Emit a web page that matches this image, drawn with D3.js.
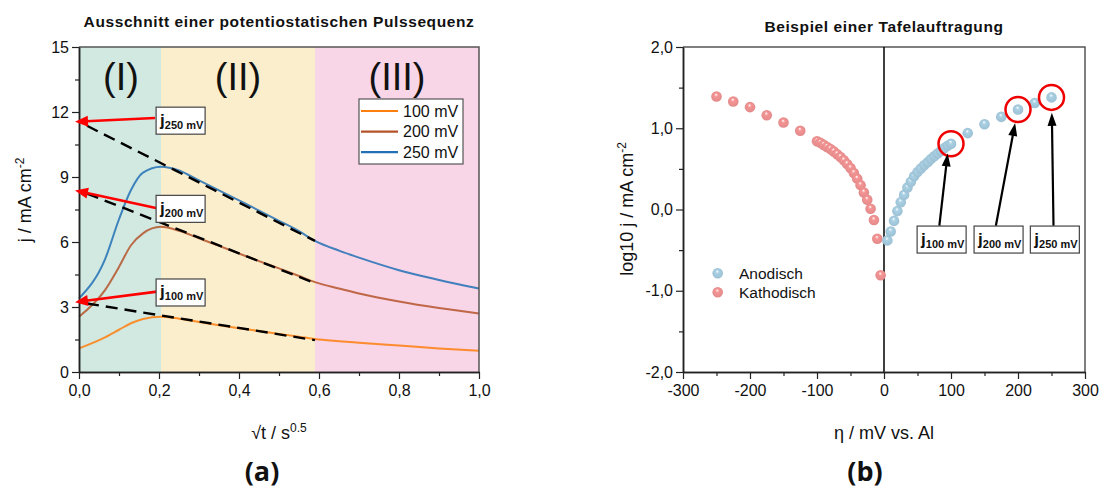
<!DOCTYPE html>
<html><head><meta charset="utf-8">
<script src="https://cdn.jsdelivr.net/npm/d3@7"></script>
<style>
html,body{margin:0;padding:0;background:#fff;}
svg{display:block;font-family:"Liberation Sans",Arial,sans-serif;}
</style></head>
<body><svg id="c" width="1102" height="488"></svg>
<script>
// ---------- Data: panel (a) ----------
const sqrtT = [0, 0.065, 0.1, 0.13, 0.16, 0.205, 0.25, 0.3, 0.35, 0.4, 0.45, 0.5, 0.55, 0.59, 0.65, 0.7, 0.8, 0.9, 1.0];
const j100 = [1.09, 1.60, 1.95, 2.25, 2.45, 2.55, 2.46, 2.31, 2.16, 2.02, 1.89, 1.76, 1.63, 1.52, 1.42, 1.35, 1.22, 1.09, 0.98];
const j200 = [2.55, 3.78, 4.85, 5.85, 6.40, 6.70, 6.52, 6.17, 5.82, 5.47, 5.12, 4.78, 4.43, 4.15, 3.85, 3.62, 3.25, 2.95, 2.70];
const j250 = [3.40, 5.20, 7.05, 8.40, 9.20, 9.47, 9.30, 8.84, 8.38, 7.92, 7.45, 6.98, 6.50, 6.05, 5.60, 5.28, 4.70, 4.25, 3.85];
const seriesNames = ["100 mV", "200 mV", "250 mV"];
const seriesColors = ["#ff7f0e", "#b5532a", "#2270b5"];
const fitStart = [0.02, 0.02, 0.02];
const fitEnd = [0.59, 0.59, 0.59];
const fitIntercept = [3.22, 8.38, 11.55];
const fitEndValue = [1.47, 4.10, 6.05];
const regionBounds = [0, 0.205, 0.59, 1.0];
const regionLabels = ["(I)", "(II)", "(III)"];
const regionColors = ["#d2e9e1", "#fbeecd", "#f8d5e7"];
const xTicksA = [0, 0.2, 0.4, 0.6, 0.8, 1.0];
const yTicksA = [0, 3, 6, 9, 12, 15];
// annotation labels in data coords (box centre) and arrow start
const annoA_box = [[0.254, 3.67], [0.254, 7.53], [0.254, 11.6]];
const annoA_from = [[0.2, 3.72], [0.198, 7.55], [0.19, 11.72]];
const annoA_sub = ["100 mV", "200 mV", "250 mV"];

// ---------- Data: panel (b) ----------
const etaKath = [-250, -225, -200, -175, -150, -125, -100, -95, -90, -85, -80, -75, -70, -65, -60, -55, -50, -45, -40, -35, -30, -25, -20, -15, -10, -5];
const logKath = [1.39, 1.33, 1.26, 1.16, 1.07, 0.97, 0.84, 0.82, 0.795, 0.77, 0.745, 0.715, 0.68, 0.645, 0.605, 0.56, 0.51, 0.45, 0.38, 0.30, 0.21, 0.12, 0.01, -0.13, -0.36, -0.81];
const etaAnod = [5, 10, 15, 20, 25, 30, 35, 40, 45, 50, 55, 60, 65, 70, 75, 80, 85, 90, 95, 100, 125, 150, 175, 200, 225, 250];
const logAnod = [-0.38, -0.27, -0.14, -0.02, 0.09, 0.18, 0.27, 0.34, 0.41, 0.46, 0.505, 0.545, 0.58, 0.62, 0.655, 0.69, 0.72, 0.755, 0.785, 0.81, 0.94, 1.05, 1.14, 1.23, 1.31, 1.38];
const highlightEta = [100, 200, 250];
const highlightLog = [0.81, 1.23, 1.38];
const annoB_box = [[86, -0.37], [171, -0.37], [255, -0.37]];
const annoB_from = [[82.6, -0.2], [167, -0.2], [253, -0.2]];
const annoB_to = [[95, 0.69], [195.7, 1.065], [250.5, 1.19]];
const annoB_sub = ["100 mV", "200 mV", "250 mV"];
const xTicksB = [-300, -200, -100, 0, 100, 200, 300];
const yTicksB = [-2, -1, 0, 1, 2];
const legendB = ["Anodisch", "Kathodisch"];
const colAnod = "#a9d0e4", colKath = "#f59595";

// ---------- Drawing ----------
const svg = d3.select("#c");
svg.append("rect").attr("width",1102).attr("height",488).attr("fill","#fff");
const fmtComma = d => d3.format(".1f")(d).replace(".", ",").replace("\u2212","-");
const FS = 16;

// gradients
const defs = svg.append("defs");
[["gA", colAnod], ["gK", colKath]].forEach(([id, c]) => {
  const g = defs.append("radialGradient").attr("id", id).attr("cx", "50%").attr("cy", "50%").attr("r", "55%").attr("fx", "45%").attr("fy", "30%");
  g.append("stop").attr("offset", "0%").attr("stop-color", "#ffffff");
  g.append("stop").attr("offset", "30%").attr("stop-color", c);
  g.append("stop").attr("offset", "100%").attr("stop-color", d3.color(c).darker(0.25));
});

function arrow(g, x1, y1, x2, y2, color, w, hl, hw) {
  const dx = x2 - x1, dy = y2 - y1, L = Math.hypot(dx, dy), ux = dx / L, uy = dy / L;
  const bx = x2 - ux * hl, by = y2 - uy * hl;
  g.append("line").attr("x1", x1).attr("y1", y1).attr("x2", bx + ux * 2).attr("y2", by + uy * 2)
    .attr("stroke", color).attr("stroke-width", w);
  g.append("path").attr("d", `M${x2},${y2}L${bx - uy * hw / 2},${by + ux * hw / 2}L${bx + uy * hw / 2},${by - ux * hw / 2}Z`)
    .attr("fill", color);
}
function labelBox(g, cx, cy, sub) {
  const w = 49, h = 27;
  g.append("rect").attr("x", cx - w / 2).attr("y", cy - h / 2).attr("width", w).attr("height", h)
    .attr("fill", "#fff").attr("stroke", "#444").attr("stroke-width", 1.2);
  const t = g.append("text").attr("x", cx - w / 2 + 4).attr("y", cy + 5).attr("font-weight", "bold").attr("font-size", 17).attr("fill", "#111");
  t.append("tspan").text("j");
  t.append("tspan").attr("font-size", 11).attr("dy", 3).text(sub);
}

// ===== Panel (a) =====
const xA = d3.scaleLinear().domain([0, 1]).range([79, 479]);
const yA = d3.scaleLinear().domain([0, 15]).range([372, 47]);
const gA = svg.append("g");
regionColors.forEach((c, i) => {
  gA.append("rect").attr("x", xA(regionBounds[i])).attr("y", yA(15))
    .attr("width", xA(regionBounds[i + 1]) - xA(regionBounds[i])).attr("height", yA(0) - yA(15)).attr("fill", c);
  gA.append("text").attr("x", (xA(regionBounds[i]) + xA(regionBounds[i + 1])) / 2 + (i==0?1:0)).attr("y", 90)
    .attr("text-anchor", "middle").attr("font-size", 38).attr("fill", "#111").text(regionLabels[i]);
});
// curves
const allA = [j100, j200, j250];
const lineA = d3.line().x((d, i) => xA(sqrtT[i])).y(d => yA(d)).curve(d3.curveMonotoneX);
allA.forEach((s, k) => {
  gA.append("path").attr("d", lineA(s)).attr("fill", "none").attr("stroke", seriesColors[k])
    .attr("stroke-width", 2).attr("stroke-opacity", 0.85);
});
// fits
fitIntercept.forEach((b, k) => {
  const m = (fitEndValue[k] - b) / fitEnd[k];
  gA.append("line").attr("x1", xA(fitStart[k])).attr("y1", yA(b + m * fitStart[k]))
    .attr("x2", xA(fitEnd[k])).attr("y2", yA(fitEndValue[k]))
    .attr("stroke", "#000").attr("stroke-width", 2.4).attr("stroke-dasharray", "12,7");
});
// frame top/right
gA.append("path").attr("d", `M${xA(0)},${yA(15)}H${xA(1)}V${yA(0)}`).attr("fill", "none").attr("stroke", "#555").attr("stroke-width", 1.5);
// axes
function styleAxis(g) {
  g.selectAll("path.domain").attr("stroke", "#222").attr("stroke-width", 1.5);
  g.selectAll(".tick line").attr("stroke", "#222").attr("stroke-width", 1.2);
  g.selectAll("text").attr("font-size", FS).attr("fill", "#111").attr("font-family", "Liberation Sans, Arial, sans-serif");
}
const axBA = gA.append("g").attr("transform", `translate(0,${yA(0)})`)
  .call(d3.axisBottom(xA).tickValues(xTicksA).tickFormat(fmtComma).tickSize(7).tickPadding(6).tickSizeOuter(0));
styleAxis(axBA);
const axBAm = gA.append("g").attr("transform", `translate(0,${yA(0)})`)
  .call(d3.axisBottom(xA).tickValues([0.1, 0.3, 0.5, 0.7, 0.9]).tickFormat("").tickSize(4).tickSizeOuter(0));
styleAxis(axBAm);
const axLA = gA.append("g").attr("transform", `translate(${xA(0)},0)`)
  .call(d3.axisLeft(yA).tickValues(yTicksA).tickFormat(d3.format("d")).tickSize(7).tickPadding(3).tickSizeOuter(0));
styleAxis(axLA);
const axLAm = gA.append("g").attr("transform", `translate(${xA(0)},0)`)
  .call(d3.axisLeft(yA).tickValues([1.5, 4.5, 7.5, 10.5, 13.5]).tickFormat("").tickSize(4).tickSizeOuter(0));
styleAxis(axLAm);
// arrows + boxes
annoA_box.forEach((b, k) => {
  arrow(gA, xA(annoA_from[k][0]), yA(annoA_from[k][1]), xA(-0.01), yA(fitIntercept[k]), "#ff0000", 2.6, 13, 11);
  labelBox(gA, xA(b[0]), yA(b[1]), annoA_sub[k]);
});
// legend
const lg = gA.append("g");
lg.append("rect").attr("x", 359).attr("y", 99).attr("width", 104).attr("height", 65).attr("fill", "#fff").attr("stroke", "#555").attr("stroke-width", 1.2);
seriesNames.forEach((n, k) => {
  const yy = 111 + k * 20.6;
  lg.append("line").attr("x1", 361).attr("x2", 398).attr("y1", yy).attr("y2", yy).attr("stroke", seriesColors[k]).attr("stroke-width", 2.2);
  lg.append("text").attr("x", 403).attr("y", yy + 5.5).attr("font-size", FS).attr("fill", "#111").text(n);
});
// titles/labels
svg.append("text").attr("x", 279).attr("y", 27).attr("text-anchor", "middle").attr("font-weight", "bold").attr("font-size", 15.5).attr("letter-spacing", 0.6).attr("fill", "#111").text("Ausschnitt einer potentiostatischen Pulssequenz");
const ylA = svg.append("text").attr("transform", "translate(31,200) rotate(-90)").attr("text-anchor", "middle").attr("font-size", 18).attr("fill", "#111");
ylA.append("tspan").text("j / mA cm");
ylA.append("tspan").attr("font-size", 12).attr("dy", -7).text("-2");
const xlA = svg.append("text").attr("x", 279).attr("y", 439).attr("text-anchor", "middle").attr("font-size", 18).attr("fill", "#111");
xlA.append("tspan").text("\u221At / s");
xlA.append("tspan").attr("font-size", 12).attr("dy", -7).text("0.5");
svg.append("text").attr("x", 262).attr("y", 481).attr("text-anchor", "middle").attr("font-weight", "bold").attr("font-size", 27).attr("font-family", "Open Sans, sans-serif").attr("fill", "#111").text("(a)");

// ===== Panel (b) =====
const xB = d3.scaleLinear().domain([-300, 300]).range([683, 1085]);
const yB = d3.scaleLinear().domain([-2, 2]).range([372, 47]);
const gB = svg.append("g");
gB.append("path").attr("d", `M${xB(-300)},${yB(2)}H${xB(300)}V${yB(-2)}`).attr("fill", "none").attr("stroke", "#555").attr("stroke-width", 1.5);
gB.append("line").attr("x1", xB(0)).attr("x2", xB(0)).attr("y1", yB(2)).attr("y2", yB(-2)).attr("stroke", "#000").attr("stroke-width", 1.5);
const axBB = gB.append("g").attr("transform", `translate(0,${yB(-2)})`)
  .call(d3.axisBottom(xB).tickValues(xTicksB).tickFormat(d => String(d)).tickSize(7).tickPadding(6).tickSizeOuter(0));
styleAxis(axBB);
const axBBm = gB.append("g").attr("transform", `translate(0,${yB(-2)})`)
  .call(d3.axisBottom(xB).tickValues([-250, -150, -50, 50, 150, 250]).tickFormat("").tickSize(4).tickSizeOuter(0));
styleAxis(axBBm);
const axLB = gB.append("g").attr("transform", `translate(${xB(-300)},0)`)
  .call(d3.axisLeft(yB).tickValues(yTicksB).tickFormat(fmtComma).tickSize(7).tickPadding(3).tickSizeOuter(0));
styleAxis(axLB);
const axLBm = gB.append("g").attr("transform", `translate(${xB(-300)},0)`)
  .call(d3.axisLeft(yB).tickValues([-1.5, -0.5, 0.5, 1.5]).tickFormat("").tickSize(4).tickSizeOuter(0));
styleAxis(axLBm);
// points
gB.selectAll("circle.k").data(etaKath).enter().append("circle").attr("class", "k")
  .attr("cx", d => xB(d)).attr("cy", (d, i) => yB(logKath[i])).attr("r", 5.3).attr("fill", "url(#gK)");
gB.selectAll("circle.a").data(etaAnod).enter().append("circle").attr("class", "a")
  .attr("cx", d => xB(d)).attr("cy", (d, i) => yB(logAnod[i])).attr("r", 5.3).attr("fill", "url(#gA)");
highlightEta.forEach((e, k) => {
  gB.append("circle").attr("cx", xB(e)).attr("cy", yB(highlightLog[k])).attr("r", 12.5).attr("fill", "none").attr("stroke", "#ee0000").attr("stroke-width", 2.5);
});
annoB_box.forEach((b, k) => {
  arrow(gB, xB(annoB_from[k][0]), yB(annoB_from[k][1]), xB(annoB_to[k][0]), yB(annoB_to[k][1]), "#000", 2.2, 13, 9);
  labelBox(gB, xB(b[0]), yB(b[1]), annoB_sub[k]);
});
// legend
legendB.forEach((n, k) => {
  const yy = 273.3 + k * 19;
  gB.append("circle").attr("cx", 717.7).attr("cy", yy).attr("r", 5.3).attr("fill", k == 0 ? "url(#gA)" : "url(#gK)");
  gB.append("text").attr("x", 739).attr("y", yy + 5.5).attr("font-size", 15.5).attr("fill", "#111").text(n);
});
svg.append("text").attr("x", 884).attr("y", 32).attr("text-anchor", "middle").attr("font-weight", "bold").attr("font-size", 15.5).attr("letter-spacing", 0.6).attr("fill", "#111").text("Beispiel einer Tafelauftragung");
const ylB = svg.append("text").attr("transform", "translate(633,209) rotate(-90)").attr("text-anchor", "middle").attr("font-size", 18).attr("fill", "#111");
ylB.append("tspan").text("log10 j / mA cm");
ylB.append("tspan").attr("font-size", 12).attr("dy", -7).text("-2");
svg.append("text").attr("x", 884).attr("y", 439).attr("text-anchor", "middle").attr("font-size", 18).attr("fill", "#111").text("\u03B7 / mV vs. Al");
svg.append("text").attr("x", 865).attr("y", 481).attr("text-anchor", "middle").attr("font-weight", "bold").attr("font-size", 27).attr("font-family", "Open Sans, sans-serif").attr("fill", "#111").text("(b)");
</script></body></html>
